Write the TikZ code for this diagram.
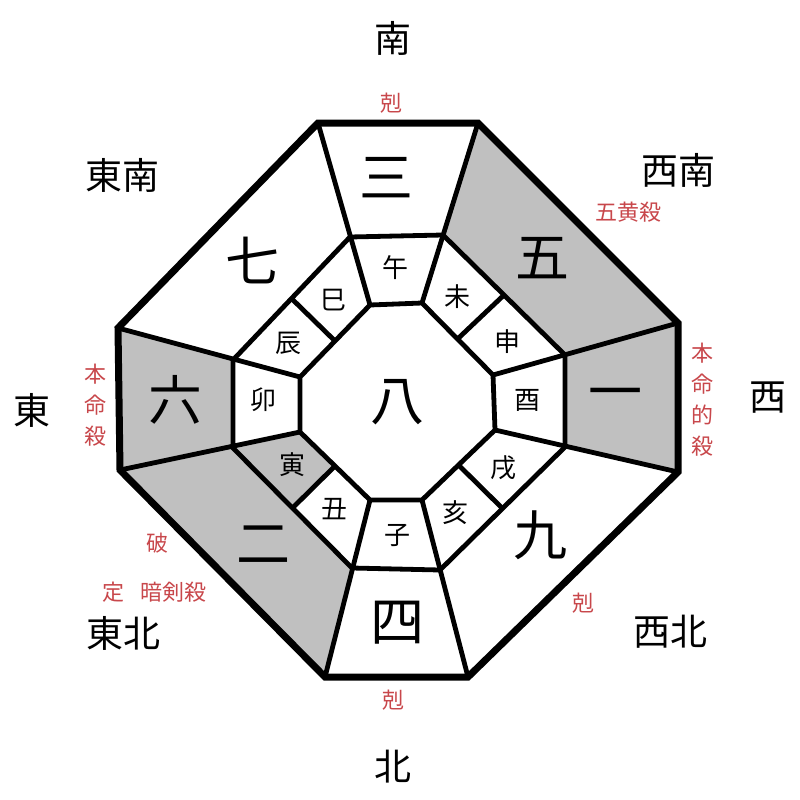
\documentclass[tikz,border=0pt]{standalone}
\usepackage{fontspec}
\newfontfamily\jp{Noto Sans CJK JP}
\usetikzlibrary{calc}
\definecolor{cellgray}{HTML}{C0C0C0}
\definecolor{omen}{HTML}{C8474B}

\begin{document}
\begin{tikzpicture}[x=1pt,y=-1pt,
    num/.style={font=\jp\fontsize{54}{54}\selectfont},
    zhi/.style={font=\jp\fontsize{26}{26}\selectfont},
    dir/.style={font=\jp\fontsize{37}{37}\selectfont},
    sha/.style={font=\jp\fontsize{22}{31}\selectfont,text=omen,align=center},
    frame/.style={line width=7pt},
    wall/.style={line width=4.8pt},
    cell/.style={fill=cellgray}]
  \useasboundingbox (0,0) rectangle (800,800);

  % outer, middle and inner rings
  \foreach \n/\p in {O1/{318,123},O2/{478,123},O3/{678,323},O4/{678,472},
                     O5/{468,677},O6/{325,677},O7/{120,470},O8/{118,328},
                     M1/{350,237},M2/{443,235},M3/{565,355},M4/{565,447},
                     M5/{440,570},M6/{352,568},M7/{233,448},M8/{233,360},
                     I1/{370,305},I2/{422,303},I3/{493,375},I4/{495,430},
                     I5/{422,500},I6/{370,500},I7/{300,432},I8/{300,377}}
    \coordinate (\n) at (\p);

  \fill[cell] (O2) -- (O3) -- (M3) -- (M2) -- cycle;
  \fill[cell] (O3) -- (O4) -- (M4) -- (M3) -- cycle;
  \fill[cell] (O6) -- (O7) -- (M7) -- (M6) -- cycle;
  \fill[cell] (O7) -- (O8) -- (M8) -- (M7) -- cycle;
  \fill[cell] (M7) -- ($(M7)!.5!(M6)$) -- ($(I7)!.5!(I6)$) -- (I7) -- cycle;

  \draw[wall] (M1) -- (M2) -- (M3) -- (M4) -- (M5) -- (M6) -- (M7) -- (M8) -- cycle;
  \draw[wall] (I1) -- (I2) -- (I3) -- (I4) -- (I5) -- (I6) -- (I7) -- (I8) -- cycle;
  \foreach \k in {1,...,8}
    \draw[wall] (O\k) -- (I\k);
  \foreach \a/\b in {1/8,2/3,4/5,6/7}
    \draw[wall] ($(M\a)!.5!(M\b)$) -- ($(I\a)!.5!(I\b)$);
  \draw[frame] (O1) -- (O2) -- (O3) -- (O4) -- (O5) -- (O6) -- (O7) -- (O8) -- cycle;

  % stars
  \node[num] (n8) at (397,402) {八};
  \node[num] (n3) at (386,178) {三};
  \node[num] (n5) at (542,258) {五};
  \node[num] (n1) at (615,400) {一};
  \node[num] (n9) at (540,535) {九};
  \node[num] (n4) at (397,623) {四};
  \node[num] (n2) at (263,545) {二};
  \node[num] (n6) at (175,400) {六};
  \node[num] (n7) at (252,260) {七};

  % branches
  \node[zhi] (wu)   at (395,268) {午};
  \node[zhi] (wei)  at (457,297) {未};
  \node[zhi] (shen) at (507,342) {申};
  \node[zhi] (you)  at (527,400) {酉};
  \node[zhi] (xu)   at (503,468) {戌};
  \node[zhi] (hai)  at (455,513) {亥};
  \node[zhi] (zi)   at (397,535) {子};
  \node[zhi] (chou) at (334,509) {丑};
  \node[zhi] (yin)  at (292,465) {寅};
  \node[zhi] (mao)  at (263,400) {卯};
  \node[zhi] (chen) at (288,343) {辰};
  \node[zhi] (si)   at (333,300) {巳};

  % directions
  \node[dir] (south) at (393,38)  {南};
  \node[dir] (se)    at (122,175) {東南};
  \node[dir] (sw)    at (678,170) {西南};
  \node[dir] (east)  at (32,410)  {東};
  \node[dir] (west)  at (768,398) {西};
  \node[dir] (ne)    at (123,633) {東北};
  \node[dir] (nw)    at (670,632) {西北};
  \node[dir] (north) at (393,767) {北};

  % marks
  \node[sha] (keS)  at (391,103) {剋};
  \node[sha] (gohz) at (628,212) {五黄殺};
  \node[sha] (hmt)  at (702,400) {本\\命\\的\\殺};
  \node[sha] (hm)   at (95,405)  {本\\命\\殺};
  \node[sha] (ha)   at (157,543) {破};
  \node[sha] (tei)  at (113,592) {定};
  \node[sha] (anke) at (173,592) {暗剣殺};
  \node[sha] (keNW) at (583,603) {剋};
  \node[sha] (keN)  at (393,700) {剋};
\end{tikzpicture}
\end{document}
